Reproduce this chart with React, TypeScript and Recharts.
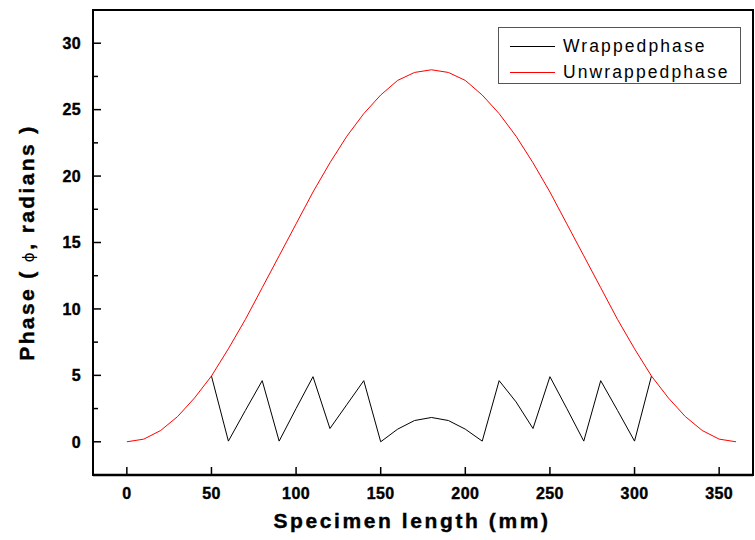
import React from "react";
import { LineChart, Line, XAxis, YAxis, Legend, ReferenceArea } from "recharts";

const lengthMm = [0, 10, 20, 30, 40, 50, 60, 70, 80, 90, 100, 110, 120, 130, 140, 150, 160, 170, 180, 190, 200, 210, 220, 230, 240, 250, 260, 270, 280, 290, 300, 310, 320, 330, 340, 350, 360];
const unwrappedPhase = [0, 0.2, 0.85, 1.9, 3.3, 4.95, 7.0, 9.2, 11.6, 14.0, 16.4, 18.8, 21.0, 23.0, 24.7, 26.1, 27.2, 27.8, 28.0, 27.8, 27.2, 26.1, 24.7, 23.0, 21.0, 18.8, 16.4, 14.0, 11.6, 9.2, 7.0, 4.95, 3.3, 1.9, 0.85, 0.2, 0];
const wrappedPhase: (number | null)[] = [null, null, null, null, null, 4.95, 0.05, 2.35, 4.6, 0.05, 2.5, 4.9, 1.0, 2.8, 4.6, 0.0, 0.95, 1.6, 1.83, 1.6, 0.95, 0.05, 4.6, 3.0, 1.0, 4.9, 2.5, 0.05, 4.6, 2.35, 0.05, 4.95, null, null, null, null, null];

const seriesNames = ["Wrappedphase", "Unwrappedphase"];
const xTicks = [0, 50, 100, 150, 200, 250, 300, 350];
const yTicks = [0, 2.5, 5, 7.5, 10, 12.5, 15, 17.5, 20, 22.5, 25, 27.5, 30];

const data = lengthMm.map((x, i) => ({ x, wrapped: wrappedPhase[i], unwrapped: unwrappedPhase[i] }));

const FONT = "'Liberation Sans', Arial, sans-serif";
const Y_TICK_MARGIN = 12;

const YTick = (props: any) => {
  const { x, y, payload } = props;
  const axisX = x + Y_TICK_MARGIN;
  const major = payload.value % 5 === 0;
  return (
    <g>
      <line x1={axisX} x2={axisX + (major ? 8 : 5)} y1={y} y2={y} stroke="#000" strokeWidth={1.5} />
      {major && (
        <text x={x} y={y} dy="0.36em" textAnchor="end" fontFamily={FONT} fontWeight="bold" fontSize={16} letterSpacing={0.4} fill="#000" stroke="#000" strokeWidth={0.4}>
          {payload.value}
        </text>
      )}
    </g>
  );
};

const XTick = (props: any) => {
  const { x, y, payload } = props;
  return (
    <text x={x} y={y} dy="0.71em" textAnchor="middle" fontFamily={FONT} fontWeight="bold" fontSize={16} letterSpacing={0.4} fill="#000" stroke="#000" strokeWidth={0.4}>
      {payload.value}
    </text>
  );
};

const LegendContent = (props: any) => {
  const items = [...(props.payload || [])].sort(
    (a: any, b: any) => seriesNames.indexOf(a.value) - seriesNames.indexOf(b.value)
  );
  return (
    <div style={{ border: "1px solid #555", background: "#fff", width: 243, height: 57, boxSizing: "border-box", paddingTop: 5 }}>
      {items.map((p: any) => (
        <div key={p.value} style={{ display: "flex", alignItems: "center", height: 26 }}>
          <div style={{ width: 45, height: 0, borderTop: `1px solid ${p.color}`, marginLeft: 11, marginRight: 8 }} />
          <span style={{ fontFamily: FONT, fontSize: 17.5, letterSpacing: 2.1, color: "#000" }}>{p.value}</span>
        </div>
      ))}
    </div>
  );
};

const YLabel = (props: any) => {
  const vb = props.viewBox || { x: 0, y: 0, width: 93, height: 465 };
  const cx = vb.x + 27;
  const cy = vb.y + vb.height / 2;
  return (
    <text x={cx} y={cy} transform={`rotate(-90, ${cx}, ${cy})`} textAnchor="middle" dy="0.35em" fontFamily={FONT} fontWeight="bold" fontSize={21} letterSpacing={2.4} fill="#000" stroke="#000" strokeWidth={0.4}>
      Phase (
      <tspan fontFamily="'DejaVu Sans', sans-serif" fontWeight="normal" fontSize={15} strokeWidth={0}> ϕ</tspan>, radians )
    </text>
  );
};

const XLabel = (props: any) => {
  const vb = props.viewBox || { x: 93, y: 475, width: 660, height: 40 };
  const cx = vb.x + vb.width / 2 - 11;
  return (
    <text x={cx} y={vb.y + 53} textAnchor="middle" fontFamily={FONT} fontWeight="bold" fontSize={21} letterSpacing={2.6} fill="#000" stroke="#000" strokeWidth={0.4}>
      Specimen length (mm)
    </text>
  );
};

export default function App() {
  return (
    <div style={{ position: "absolute", left: 0, top: 0, width: 755, height: 540, background: "#fff" }}>
      <LineChart width={755} height={540} data={data} margin={{ top: 10, right: 2, bottom: 25, left: 0 }}>
        <XAxis
          dataKey="x"
          type="number"
          domain={[-20, 370]}
          ticks={xTicks}
          allowDataOverflow
          height={40}
          tickSize={-8}
          tickMargin={21}
          tick={<XTick />}
          tickLine={{ stroke: "#000", strokeWidth: 1.5 }}
          axisLine={{ stroke: "#000", strokeWidth: 2.5 }}
          label={<XLabel />}
        />
        <YAxis
          type="number"
          domain={[-2.5, 32.5]}
          ticks={yTicks}
          allowDataOverflow
          width={93}
          tickSize={0}
          tickMargin={Y_TICK_MARGIN}
          tickLine={false}
          tick={<YTick />}
          axisLine={{ stroke: "#000", strokeWidth: 2 }}
          interval={0}
          label={<YLabel />}
        />
        <ReferenceArea x1={-20} x2={370} y1={-2.5} y2={32.5} fill="none" stroke="#000" strokeWidth={2} ifOverflow="visible" />
        <Legend
          verticalAlign="middle"
          align="center"
          layout="vertical"
          content={<LegendContent />}
          wrapperStyle={{ position: "absolute", left: 498, top: 27, width: 243, height: 57 }}
        />
        <Line name="Wrappedphase" dataKey="wrapped" stroke="#000" strokeWidth={1} dot={false} isAnimationActive={false} connectNulls={false} />
        <Line name="Unwrappedphase" dataKey="unwrapped" stroke="#ff0000" strokeWidth={1} dot={false} isAnimationActive={false} />
      </LineChart>
    </div>
  );
}
